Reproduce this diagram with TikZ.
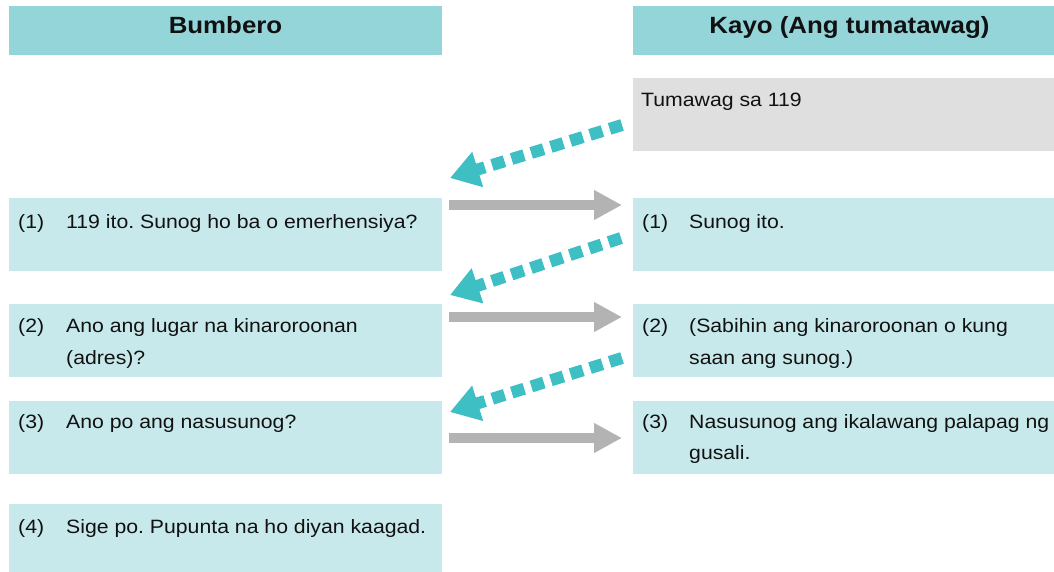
\documentclass[tikz,border=0pt]{standalone}
\usepackage{fontspec}
\setmainfont[FakeStretch=1.1]{Liberation Sans}
\usetikzlibrary{arrows.meta}
\definecolor{hdrc}{HTML}{94D5DA}
\definecolor{boxc}{HTML}{C8E9EB}
\definecolor{grayc}{HTML}{DFDFDF}
\definecolor{tealc}{HTML}{3DBFC4}
\definecolor{arrc}{HTML}{B3B3B3}
\definecolor{txtc}{HTML}{111111}
\tikzset{
  hdr/.style={fill=hdrc, draw=none, anchor=north west, minimum width=433, minimum height=49, inner sep=0},
  box/.style={fill=boxc, draw=none, anchor=north west, minimum width=433, minimum height=73, inner sep=0},
  graybox/.style={fill=grayc, draw=none, anchor=north west, minimum width=433, minimum height=73, inner sep=0},
  hdrtxt/.style={anchor=base, inner sep=0, text=txtc, font=\frenchspacing\bfseries\fontsize{23.5}{28}\selectfont},
  txt/.style={anchor=base west, inner sep=0, text=txtc, font=\frenchspacing\fontsize{19.3}{31}\selectfont},
  reply/.style={draw=tealc, line width=12pt, dash pattern=on 13pt off 7.5pt, -{Triangle[length=29pt,width=35pt]}},
  ask/.style={draw=arrc, line width=10pt, -{Triangle[length=28pt,width=28pt]}}
}
\begin{document}
\begin{tikzpicture}[x=1pt,y=-1pt]
\useasboundingbox (0,0) rectangle (1054,571);
\clip (0,0) rectangle (1054,571);
\fill[white] (0,0) rectangle (1054,571);
% headers
\node[hdr] (lh) at (9,6) {};
\node[hdr] (rh) at (633,6) {};
\node[hdrtxt] (lht) at (225.5,33.3) {Bumbero};
\node[hdrtxt] (rht) at (849.5,33.3) {Kayo (Ang tumatawag)};
% boxes
\node[graybox] (g) at (633,78) {};
\node[box] (l1) at (9,198) {};
\node[box] (r1) at (633,198) {};
\node[box] (l2) at (9,304) {};
\node[box] (r2) at (633,304) {};
\node[box] (l3) at (9,401) {};
\node[box] (r3) at (633,401) {};
\node[box, minimum height=70] (l4) at (9,504) {};
% texts
\node[txt] (gt) at (641,106) {Tumawag sa 119};
\node[txt] (l1n) at (18,228) {(1)};
\node[txt] (l1t) at (66,228) {119 ito. Sunog ho ba o emerhensiya?};
\node[txt] (r1n) at (642,228) {(1)};
\node[txt] (r1t) at (689,228) {Sunog ito.};
\node[txt] (l2n) at (18,332.5) {(2)};
\node[txt] (l2t) at (66,332.5) {Ano ang lugar na kinaroroonan};
\node[txt] (l2u) at (66,364) {(adres)?};
\node[txt] (r2n) at (642,332.5) {(2)};
\node[txt] (r2t) at (689,332.5) {(Sabihin ang kinaroroonan o kung};
\node[txt] (r2u) at (689,364) {saan ang sunog.)};
\node[txt] (l3n) at (18,428.5) {(3)};
\node[txt] (l3t) at (66,428.5) {Ano po ang nasusunog?};
\node[txt] (r3n) at (642,428.5) {(3)};
\node[txt] (r3t) at (689,428.5) {Nasusunog ang ikalawang palapag ng};
\node[txt] (r3u) at (689,459.5) {gusali.};
\node[txt] (l4n) at (18,533) {(4)};
\node[txt] (l4t) at (66,533) {Sige po. Pupunta na ho diyan kaagad.};
% arrow end points
\coordinate (d1s) at (622,125);
\coordinate (d1e) at (450,178);
\coordinate (a1s) at (449,205);
\coordinate (a1e) at (622,205);
\coordinate (d2s) at (621,238);
\coordinate (d2e) at (450,295);
\coordinate (a2s) at (449,317);
\coordinate (a2e) at (622,317);
\coordinate (d3s) at (622,358);
\coordinate (d3e) at (450,412);
\coordinate (a3s) at (449,438);
\coordinate (a3e) at (622,438);
\draw[reply] (d1s) -- (d1e);
\draw[ask] (a1s) -- (a1e);
\draw[reply] (d2s) -- (d2e);
\draw[ask] (a2s) -- (a2e);
\draw[reply] (d3s) -- (d3e);
\draw[ask] (a3s) -- (a3e);
\end{tikzpicture}
\end{document}
